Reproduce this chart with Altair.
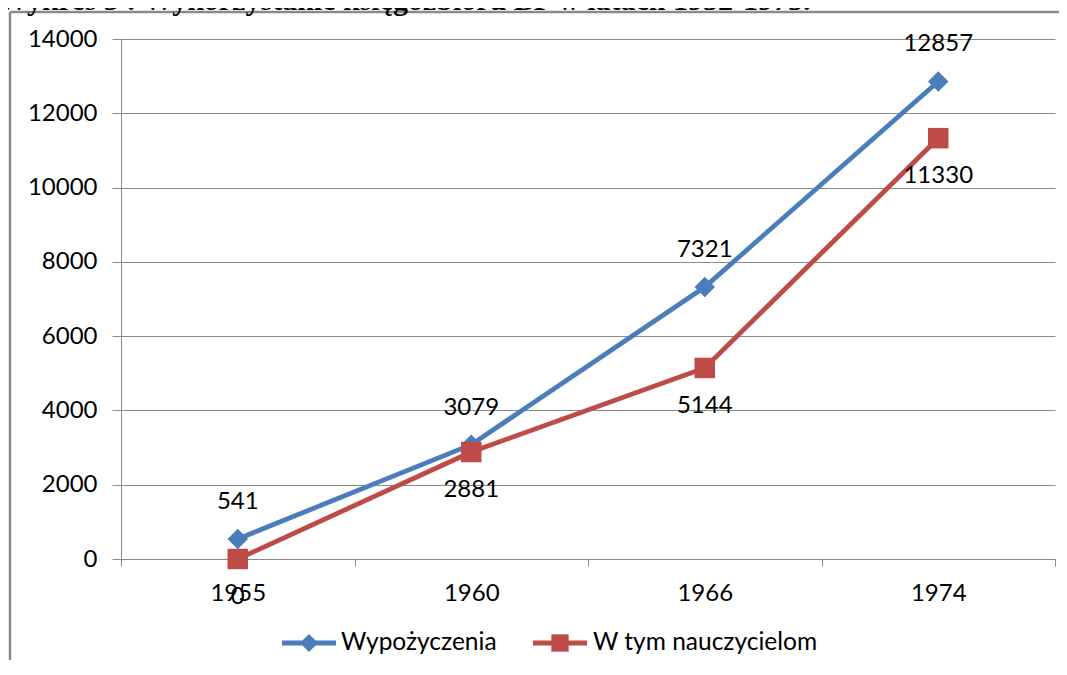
import altair as alt
import pandas as pd

years = ["1955", "1960", "1966", "1974"]
series_names = ["Wypożyczenia", "W tym nauczycielom"]
wypozyczenia = [541, 3079, 7321, 12857]
nauczyciele = [0, 2881, 5144, 11330]
colors = ["#4A7EBB", "#BE4B48"]
shapes = ["diamond", "square"]
y_ticks = [0, 2000, 4000, 6000, 8000, 10000, 12000, 14000]
title_text = "Wykres 3 : Wykorzystanie księgozbioru BP w latach 1952-1975."

rows = []
for s, vals in zip(series_names, [wypozyczenia, nauczyciele]):
    for yr, v in zip(years, vals):
        rows.append({"rok": yr, "wartosc": v, "seria": s})
df = pd.DataFrame(rows)

FONT = "Lato"
FS = 24
GRAY = "#8a8a8a"

x_enc = alt.X("rok:O", sort=years, title=None,
              scale=alt.Scale(type="band", paddingInner=0, paddingOuter=0),
              axis=alt.Axis(labelAngle=0, tickBand="extent", tickSize=7,
                            labelPadding=15, domainColor=GRAY,
                            tickColor=GRAY, labelFont=FONT, labelFontSize=FS,
                            labelColor="#000000", grid=False))
y_enc = alt.Y("wartosc:Q", title=None,
              scale=alt.Scale(domain=[0, 14000], nice=False),
              axis=alt.Axis(values=y_ticks, format="d", tickSize=9, labelPadding=15,
                            domainColor=GRAY, tickColor=GRAY,
                            gridColor=GRAY, gridWidth=1, grid=True,
                            labelFont=FONT, labelFontSize=FS, labelColor="#000000"))
color_scale = alt.Scale(domain=series_names, range=colors)
shape_scale = alt.Scale(domain=series_names, range=shapes)

base = alt.Chart(df)

lines = base.mark_line(strokeWidth=4.8).encode(
    x=x_enc, y=y_enc,
    color=alt.Color("seria:N", scale=color_scale, legend=None),
    detail="seria:N",
)

points = base.mark_point(filled=True, size=420, opacity=1).encode(
    x=x_enc, y=y_enc,
    color=alt.Color("seria:N", scale=color_scale, legend=None),
    shape=alt.Shape("seria:N", scale=shape_scale, legend=None),
)

labels_top = base.transform_filter(alt.datum.seria == series_names[0]).mark_text(
    dy=-37, font=FONT, fontSize=FS, color="#000000").encode(
    x=x_enc, y=y_enc, text="wartosc:Q")
labels_bottom = base.transform_filter(alt.datum.seria == series_names[1]).mark_text(
    dy=38, font=FONT, fontSize=FS, color="#000000").encode(
    x=x_enc, y=y_enc, text="wartosc:Q")

one = alt.Chart(pd.DataFrame({"t": [title_text]}))
frame_left = one.mark_rule(color=GRAY, strokeWidth=2.5).encode(
    x=alt.value(-111), y=alt.value(-27), y2=alt.value(700))
frame_top = one.mark_rule(color=GRAY, strokeWidth=2.5).encode(
    x=alt.value(-111), x2=alt.value(940), y=alt.value(-27))
title = one.mark_text(align="left", baseline="alphabetic", font="Liberation Serif",
                      fontWeight="bold", fontSize=30, color="#000000").encode(
    x=alt.value(-123), y=alt.value(-29), text="t:N")

# legend (line + marker + label for each series)
LEG_Y = 604
legend_layers = []
for name, col, shp, x0, xt in zip(series_names, colors, shapes, [161, 412], [220, 472]):
    d = alt.Chart(pd.DataFrame({"seria": [name]}))
    legend_layers.append(d.mark_rule(color=col, strokeWidth=4.8).encode(
        x=alt.value(x0), x2=alt.value(x0 + 54), y=alt.value(LEG_Y)))
    legend_layers.append(d.mark_point(filled=True, opacity=1, color=col, shape=shp,
                                      size=330 if shp == "diamond" else 300).encode(
        x=alt.value(x0 + 27), y=alt.value(LEG_Y)))
    legend_layers.append(d.mark_text(align="left", baseline="middle", font=FONT,
                                     fontSize=24.5, color="#000000").encode(
        x=alt.value(xt), y=alt.value(LEG_Y), text="seria:N"))

chart = alt.layer(frame_left, frame_top, title, lines, points, labels_top, labels_bottom,
                  *legend_layers).properties(
    width=934, height=520,
    autosize=alt.AutoSizeParams(type="none"),
    padding={"left": 113, "top": 31, "right": 4, "bottom": 101},
    background="white",
).configure_view(stroke=None)

chart.save("out.html", embed_options={"renderer": "svg", "actions": False})
